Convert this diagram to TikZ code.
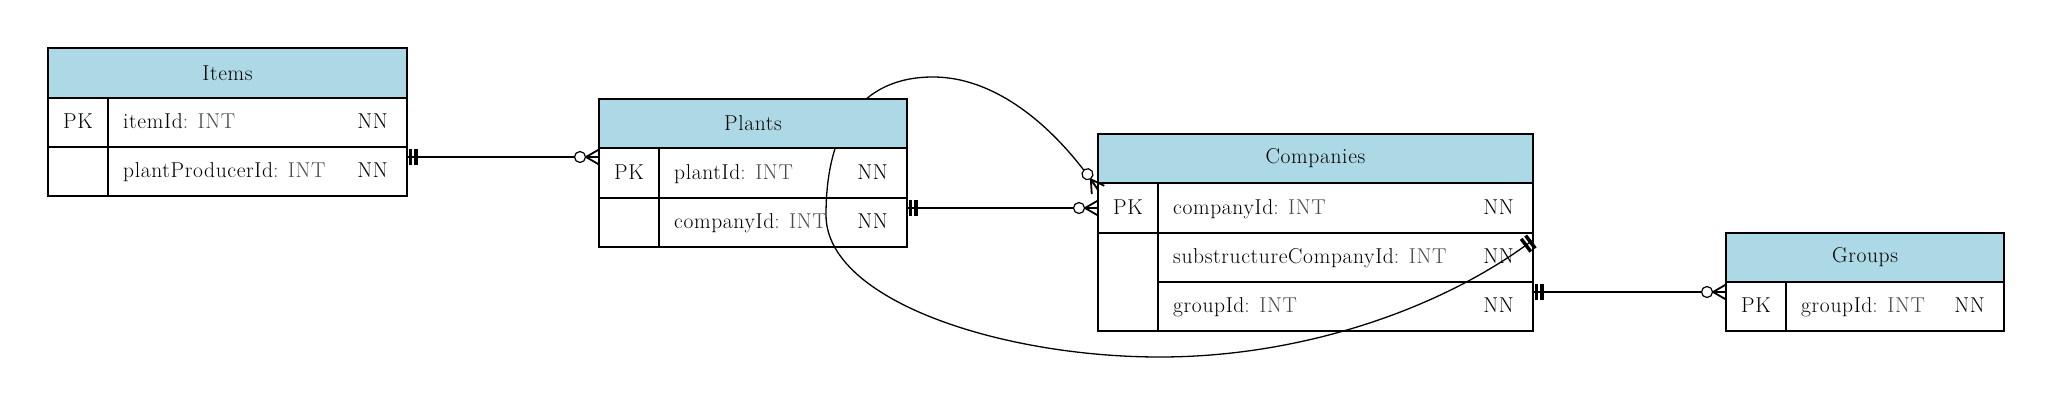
\documentclass[tikz,border=0pt]{standalone}
\usepackage{fontspec}
\setmainfont{Latin Modern Roman}[LetterSpace=3]
\usetikzlibrary{decorations.markings,backgrounds,calc}
\definecolor{hdrblue}{HTML}{ADD8E6}
\definecolor{typegray}{HTML}{4A4A4A}
\newcommand{\fld}[1]{#1\textcolor{typegray}{: INT}}
\tikzset{
  tbl/.style={draw=black, line width=1.2pt, inner sep=0pt, outer sep=0pt, anchor=north west},
  hdr/.style={tbl, fill=hdrblue},
  keyt/.style={anchor=base, inner sep=0pt},
  fldt/.style={anchor=base west, inner sep=0pt},
  nnt/.style={anchor=base east, inner sep=0pt},
  conn/.style={line width=1.3pt},
  teestart/.style={postaction={decorate, decoration={markings,
      mark=at position 0 with {\fill (1.5pt,-8pt) rectangle (5pt,8pt); \fill (7pt,-8pt) rectangle (10.5pt,8pt);}}}},
  crowend/.style={postaction={decorate, decoration={markings,
      mark=at position 1 with {\draw[line width=1.8pt] (-13pt,0) -- (0,-7.5pt) (-13pt,0) -- (0,7.5pt) (-13pt,0) -- (0,0);
        \draw[line width=1.2pt, fill=white] (-19pt,0) circle (5.5pt);}}}},
}
\begin{document}
\begin{tikzpicture}[x=1pt,y=-1pt,font=\fontsize{21.5}{25}\selectfont]
\useasboundingbox (0,0) rectangle (2052,407);
% Items
\node[hdr, minimum width=359pt, minimum height=50pt] (items) at (48,48) {Items};
\node[tbl, minimum width=60pt, minimum height=49pt] (itemsK1) at (48,98) {};
\node[tbl, minimum width=299pt, minimum height=49pt] (itemsR1) at (108,98) {};
\node[tbl, minimum width=60pt, minimum height=49pt] (itemsK2) at (48,147) {};
\node[tbl, minimum width=299pt, minimum height=49pt] (itemsR2) at (108,147) {};
\node[keyt] (itemsPK) at ($(itemsK1.center)+(0,6)$) {PK};
\node[fldt] (itemsF1) at ($(itemsR1.west)+(15,6)$) {\fld{itemId}};
\node[nnt] (itemsN1) at ($(itemsR1.east)+(-19,6)$) {NN};
\node[fldt] (itemsF2) at ($(itemsR2.west)+(15,6)$) {\fld{plantProducerId}};
\node[nnt] (itemsN2) at ($(itemsR2.east)+(-19,6)$) {NN};
% Plants
\node[hdr, minimum width=308pt, minimum height=49pt] (plants) at (599,99) {Plants};
\node[tbl, minimum width=60pt, minimum height=50pt] (plantsK1) at (599,148) {};
\node[tbl, minimum width=248pt, minimum height=50pt] (plantsR1) at (659,148) {};
\node[tbl, minimum width=60pt, minimum height=49pt] (plantsK2) at (599,198) {};
\node[tbl, minimum width=248pt, minimum height=49pt] (plantsR2) at (659,198) {};
\node[keyt] (plantsPK) at ($(plantsK1.center)+(0,6)$) {PK};
\node[fldt] (plantsF1) at ($(plantsR1.west)+(15,6)$) {\fld{plantId}};
\node[nnt] (plantsN1) at ($(plantsR1.east)+(-19,6)$) {NN};
\node[fldt] (plantsF2) at ($(plantsR2.west)+(15,6)$) {\fld{companyId}};
\node[nnt] (plantsN2) at ($(plantsR2.east)+(-19,6)$) {NN};
% Companies
\node[hdr, minimum width=435pt, minimum height=49pt] (comp) at (1098,134) {Companies};
\node[tbl, minimum width=60pt, minimum height=50pt] (compK1) at (1098,183) {};
\node[tbl, minimum width=375pt, minimum height=50pt] (compR1) at (1158,183) {};
\node[tbl, minimum width=60pt, minimum height=98pt] (compK2) at (1098,233) {};
\node[tbl, minimum width=375pt, minimum height=49pt] (compR2) at (1158,233) {};
\node[tbl, minimum width=375pt, minimum height=49pt] (compR3) at (1158,282) {};
\node[keyt] (compPK) at ($(compK1.center)+(0,6)$) {PK};
\node[fldt] (compF1) at ($(compR1.west)+(15,6)$) {\fld{companyId}};
\node[nnt] (compN1) at ($(compR1.east)+(-19,6)$) {NN};
\node[fldt] (compF2) at ($(compR2.west)+(15,6)$) {\fld{substructureCompanyId}};
\node[nnt] (compN2) at ($(compR2.east)+(-19,6)$) {NN};
\node[fldt] (compF3) at ($(compR3.west)+(15,6)$) {\fld{groupId}};
\node[nnt] (compN3) at ($(compR3.east)+(-19,6)$) {NN};
% Groups
\node[hdr, minimum width=278pt, minimum height=49pt] (groups) at (1726,233) {Groups};
\node[tbl, minimum width=60pt, minimum height=49pt] (groupsK1) at (1726,282) {};
\node[tbl, minimum width=218pt, minimum height=49pt] (groupsR1) at (1786,282) {};
\node[keyt] (groupsPK) at ($(groupsK1.center)+(0,6)$) {PK};
\node[fldt] (groupsF1) at ($(groupsR1.west)+(15,6)$) {\fld{groupId}};
\node[nnt] (groupsN1) at ($(groupsR1.east)+(-19,6)$) {NN};
% connectors
\draw[conn, teestart, crowend] ([yshift=-10pt]itemsR2.north east) -- ([yshift=-9pt]plantsK1.north west);
\draw[conn, teestart, crowend] ([yshift=-10pt]plantsR2.north east) -- ([yshift=-25pt]compK1.north west);
\draw[conn, teestart, crowend] ([yshift=-10pt]compR3.north east) -- ([yshift=-10pt]groupsK1.north west);
\begin{pgfonlayer}{background}
\draw[conn, teestart, crowend] ([yshift=-7pt]compR2.north east)
  .. controls (1440,310) and (1300,357) .. (1160,357)
  .. controls (1000,357) and (826,300) .. (826,215)
  .. controls (826,130) and (860,77) .. (933,77)
  .. controls (1000,77) and (1060,133) .. ([yshift=-7pt]compK1.north west);
\end{pgfonlayer}
\end{tikzpicture}
\end{document}
